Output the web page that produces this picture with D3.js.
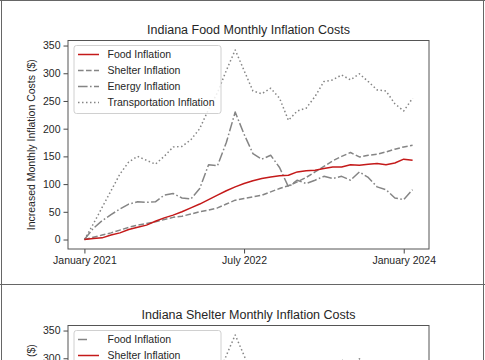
<!DOCTYPE html>
<html>
<head>
<meta charset="utf-8">
<script src="https://cdn.jsdelivr.net/npm/d3@7"></script>
<style>
  html, body { margin: 0; padding: 0; background: #fff; }
  svg { display: block; font-family: "Liberation Sans", Arial, sans-serif; }
</style>
</head>
<body>
<svg id="chart" width="485" height="360"></svg>
<script>
// ---------------- data ----------------
const months = ["2021-01","2021-02","2021-03","2021-04","2021-05","2021-06","2021-07","2021-08","2021-09","2021-10","2021-11","2021-12",
                "2022-01","2022-02","2022-03","2022-04","2022-05","2022-06","2022-07","2022-08","2022-09","2022-10","2022-11","2022-12",
                "2023-01","2023-02","2023-03","2023-04","2023-05","2023-06","2023-07","2023-08","2023-09","2023-10","2023-11","2023-12",
                "2024-01","2024-02"];
const food = [0, 2, 3, 8, 12, 18, 22, 26, 33, 39, 44, 50, 57, 64, 72, 80, 88, 95, 101, 106, 110, 113, 115, 116,
              122, 124, 125, 128, 131, 131, 135, 134, 136, 137, 135, 138, 145, 143];
const shelter = [0, 4, 8, 12, 17, 22, 26, 29, 32, 36, 40, 42, 46, 50, 53, 57, 64, 71, 74, 77, 80, 86, 92, 97,
                 104, 112, 122, 132, 142, 150, 157, 149, 152, 154, 158, 163, 167, 170];
const energy = [0, 20, 34, 45, 55, 64, 68, 67, 68, 80, 83, 75, 73, 92, 135, 133, 175, 230, 190, 155, 145, 152, 130, 95,
                107, 101, 107, 114, 110, 114, 107, 122, 112, 95, 90, 75, 72, 90];
const transportation = [0, 28, 58, 88, 118, 140, 150, 143, 136, 150, 167, 168, 180, 200, 235, 265, 305, 342, 305, 268, 263, 273, 255, 215,
                        232, 237, 258, 285, 288, 297, 288, 299, 285, 270, 268, 245, 232, 255];
const seriesNames = ["Food Inflation", "Shelter Inflation", "Energy Inflation", "Transportation Inflation"];
const xTickMonths = ["2021-01", "2022-07", "2024-01"];
const xTickLabels = ["January 2021", "July 2022", "January 2024"];
const yTicks = [0, 50, 100, 150, 200, 250, 300, 350];
const titles = ["Indiana Food Monthly Inflation Costs", "Indiana Shelter Monthly Inflation Costs"];
const yLabel = "Increased Monthly Inflation Costs ($)";

// ---------------- drawing ----------------
const svg = d3.select("#chart");
const W = 485, H = 360;
const RED = "#c41a1a", GRAY = "#858585", TXT = "#262626";

const allVals = [].concat(food, shelter, energy, transportation);
const yMin = d3.min(allVals), yMax = d3.max(allVals);
const yPad = (yMax - yMin) * 0.05;
const xPad = (months.length - 1) * 0.05;

const styles = {
  solid: null,
  dashed: "5.6,2.4",
  dashdot: "9.6,2.4,1.6,2.4",
  dotted: "1.5,2.5"
};

function drawFigure(offsetY, title, highlight) {
  const g = svg.append("g").attr("transform", `translate(0,${offsetY})`);
  const left = 68, right = 429, top = 40.5, bottom = 249;
  const x = d3.scaleLinear().domain([-xPad, months.length - 1 + xPad]).range([left, right]);
  const y = d3.scaleLinear().domain([yMin - yPad, yMax + yPad]).range([bottom, top]);

  // title
  g.append("text").attr("x", (left + right) / 2).attr("y", 33.5)
    .attr("text-anchor", "middle").attr("font-size", 12.5).attr("fill", TXT).text(title);

  // y label
  g.append("text").attr("transform", `translate(35,${(top + bottom) / 2}) rotate(-90)`)
    .attr("text-anchor", "middle").attr("font-size", 10.5).attr("fill", TXT).text(yLabel);

  const series = [
    { name: seriesNames[0], values: food, key: "food" },
    { name: seriesNames[1], values: shelter, key: "shelter" },
    { name: seriesNames[2], values: energy, key: "energy" },
    { name: seriesNames[3], values: transportation, key: "transportation" }
  ];
  const styleOf = {
    food: highlight === "food" ? { c: RED, d: styles.solid } : { c: GRAY, d: styles.dashed },
    shelter: highlight === "shelter" ? { c: RED, d: styles.solid } : { c: GRAY, d: styles.dashed },
    energy: { c: GRAY, d: styles.dashdot },
    transportation: { c: GRAY, d: styles.dotted }
  };

  const clipId = "clip" + offsetY;
  g.append("clipPath").attr("id", clipId).append("rect")
    .attr("x", left).attr("y", top).attr("width", right - left).attr("height", bottom - top);

  const line = d3.line().x((d, i) => x(i)).y(d => y(d));
  const plot = g.append("g").attr("clip-path", `url(#${clipId})`);
  // draw highlighted last so red is on top of gray
  const order = series.slice().sort((a, b) => (a.key === highlight) - (b.key === highlight));
  order.forEach(s => {
    plot.append("path").datum(s.values)
      .attr("d", line)
      .attr("fill", "none")
      .attr("stroke", styleOf[s.key].c)
      .attr("stroke-width", 1.5)
      .attr("stroke-dasharray", styleOf[s.key].d)
      .attr("stroke-linejoin", "round");
  });

  // axes
  const yAxis = d3.axisLeft(y).tickValues(yTicks).tickSize(4.5).tickPadding(3).tickFormat(d3.format("d"));
  const yG = g.append("g").attr("transform", `translate(${left},0)`).call(yAxis);
  const xAxis = d3.axisBottom(x)
    .tickValues(xTickMonths.map(m => months.indexOf(m)))
    .tickFormat((d, i) => xTickLabels[i]).tickSize(4.5).tickPadding(3);
  const xG = g.append("g").attr("transform", `translate(0,${bottom})`).call(xAxis);
  [yG, xG].forEach(a => {
    a.select(".domain").remove();
    a.selectAll("line").attr("stroke", "#333").attr("stroke-width", 0.9);
    a.selectAll("text").attr("fill", TXT).attr("font-size", 10.5)
      .attr("font-family", "Liberation Sans, Arial, sans-serif");
  });

  // frame
  g.append("rect").attr("x", left).attr("y", top).attr("width", right - left).attr("height", bottom - top)
    .attr("fill", "none").attr("stroke", "#555").attr("stroke-width", 1);

  // legend
  const lg = g.append("g");
  lg.append("rect").attr("x", 74).attr("y", 45.5).attr("width", 147).attr("height", 68).attr("rx", 2.5)
    .attr("fill", "white").attr("fill-opacity", 0.85).attr("stroke", "#d0d0d0").attr("stroke-width", 1);
  series.forEach((s, i) => {
    const yy = 54.5 + i * 16;
    let dash = styleOf[s.key].d;
    if (highlight === "shelter" && s.key === "food") dash = "9,30";
    lg.append("line").attr("x1", 78).attr("x2", 99).attr("y1", yy).attr("y2", yy)
      .attr("stroke", styleOf[s.key].c).attr("stroke-width", 1.5).attr("stroke-dasharray", dash);
    lg.append("text").attr("x", 107.5).attr("y", yy + 3.8).attr("font-size", 10.5)
      .attr("fill", TXT).text(s.name);
  });
}

drawFigure(0, titles[0], "food");
drawFigure(285, titles[1], "shelter");

// figure borders
svg.append("line").attr("x1", 0).attr("x2", W).attr("y1", 0.5).attr("y2", 0.5).attr("stroke", "#666");
svg.append("line").attr("x1", 0).attr("x2", W).attr("y1", 284.5).attr("y2", 284.5).attr("stroke", "#666");
svg.append("line").attr("x1", 1.5).attr("x2", 1.5).attr("y1", 0).attr("y2", H).attr("stroke", "#666");
svg.append("line").attr("x1", 483.5).attr("x2", 483.5).attr("y1", 0).attr("y2", H).attr("stroke", "#666");
</script>
</body>
</html>
